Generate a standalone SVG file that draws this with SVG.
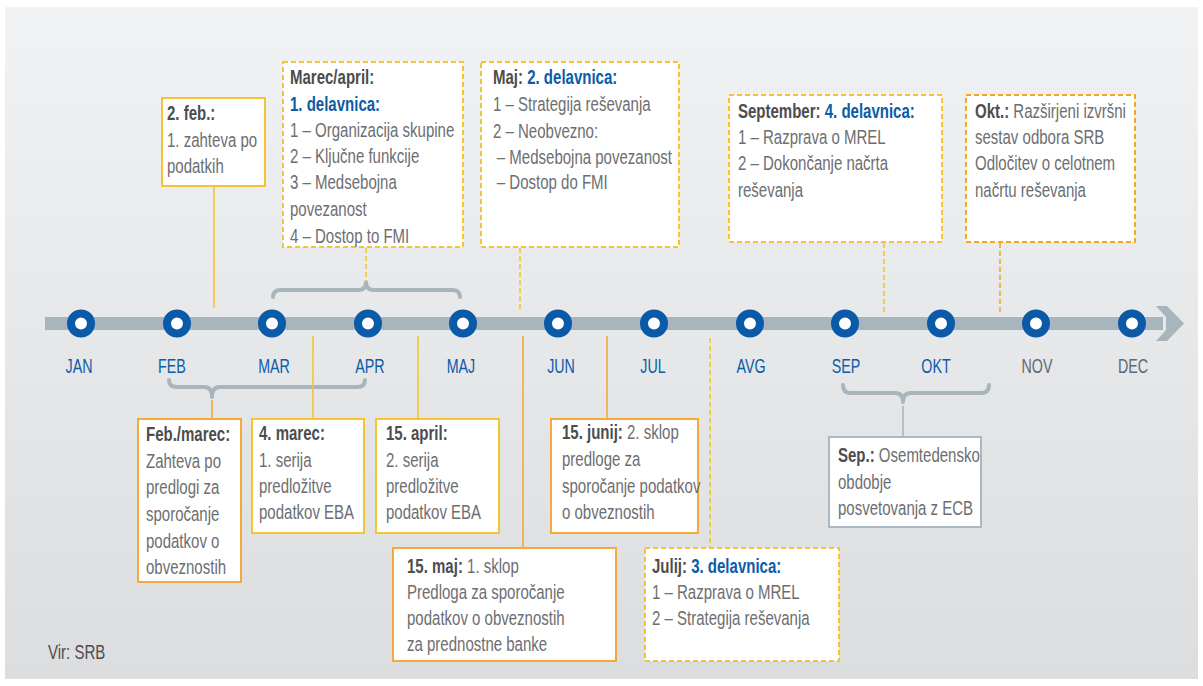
<svg xmlns="http://www.w3.org/2000/svg" width="1203" height="686" viewBox="0 0 1203 686">
<defs>
<linearGradient id="bg" x1="0" y1="0" x2="0" y2="1">
<stop offset="0" stop-color="#f1f2f4"/>
<stop offset="1" stop-color="#dcdddf"/>
</linearGradient>
<style>
text{font-family:"Liberation Sans",Arial,sans-serif;font-size:19.5px;fill:#6d6e71}
.b{font-weight:bold;fill:#4d4d4f}
.bl{font-weight:bold;fill:#0c5ca8}
.m{fill:#0c5ca8;font-size:21px;text-anchor:middle}
.mg{fill:#5d6a73;font-size:21px;text-anchor:middle}
.box{fill:#fff;stroke-width:2}
.sy{stroke:#f6c432}
.so{stroke:#f5a93a}
.dy{stroke:#f6c432;stroke-dasharray:5 3}
.do{stroke:#f5a623;stroke-dasharray:5 3}
.sg{stroke:#a9b8c2}
.ly{stroke:#f6c432;stroke-width:1.6;fill:none}
.lo{stroke:#f5a93a;stroke-width:1.6;fill:none}
.ldy{stroke:#f6c432;stroke-width:1.6;stroke-dasharray:5 3;fill:none}
.ldo{stroke:#f5a623;stroke-width:1.6;stroke-dasharray:5 3;fill:none}
.lg{stroke:#a9b8c2;stroke-width:1.6;fill:none}
.br{stroke:#a8b5bd;stroke-width:4;fill:none;stroke-linecap:round;stroke-linejoin:round}
.c{fill:#fff;stroke:#0a5aa8;stroke-width:8}
</style>
</defs>
<rect x="5" y="7" width="1193" height="672" fill="url(#bg)"/>

<g id="timeline">
<rect x="45" y="317" width="1118" height="13" fill="#a8b5bd"/>
<polygon points="1156,306 1167,306 1184,323.5 1167,341 1156,341 1166,330 1166,317" fill="#a8b5bd"/>
<circle class="c" cx="81" cy="323.5" r="10"/>
<circle class="c" cx="177" cy="323.5" r="10"/>
<circle class="c" cx="272" cy="323.5" r="10"/>
<circle class="c" cx="368" cy="323.5" r="10"/>
<circle class="c" cx="463" cy="323.5" r="10"/>
<circle class="c" cx="558" cy="323.5" r="10"/>
<circle class="c" cx="654" cy="323.5" r="10"/>
<circle class="c" cx="750" cy="323.5" r="10"/>
<circle class="c" cx="845" cy="323.5" r="10"/>
<circle class="c" cx="941" cy="323.5" r="10"/>
<circle class="c" cx="1036" cy="323.5" r="10"/>
<circle class="c" cx="1132" cy="323.5" r="10"/>
<text class="m" x="79" y="373" transform="matrix(0.68 0 0 1 25.28 0)">JAN</text>
<text class="m" x="172" y="373" transform="matrix(0.68 0 0 1 55.04 0)">FEB</text>
<text class="m" x="274" y="373" transform="matrix(0.68 0 0 1 87.68 0)">MAR</text>
<text class="m" x="370" y="373" transform="matrix(0.68 0 0 1 118.4 0)">APR</text>
<text class="m" x="461" y="373" transform="matrix(0.68 0 0 1 147.52 0)">MAJ</text>
<text class="m" x="561" y="373" transform="matrix(0.68 0 0 1 179.52 0)">JUN</text>
<text class="m" x="653" y="373" transform="matrix(0.68 0 0 1 208.96 0)">JUL</text>
<text class="m" x="751" y="373" transform="matrix(0.68 0 0 1 240.32 0)">AVG</text>
<text class="m" x="846" y="373" transform="matrix(0.68 0 0 1 270.72 0)">SEP</text>
<text class="m" x="936" y="373" transform="matrix(0.68 0 0 1 299.52 0)">OKT</text>
<text class="mg" x="1037" y="373" transform="matrix(0.68 0 0 1 331.84 0)">NOV</text>
<text class="mg" x="1133" y="373" transform="matrix(0.68 0 0 1 362.56 0)">DEC</text>
</g>

<g id="connectors">
<path class="br" d="M273,297 Q273,290 281,290 L358,290 Q366,290 366,282 Q366,290 374,290 L452,290 Q460,290 460,297"/>
<path class="br" d="M169,380 Q169,387 177,387 L204,387 Q212,387 212,397 Q212,387 220,387 L357,387 Q365,387 365,380"/>
<path class="br" d="M843,385 Q843,393 851,393 L895,393 Q903,393 903,402 Q903,393 911,393 L981,393 Q989,393 989,385"/>
<line class="ly" x1="214" y1="186" x2="214" y2="308"/>
<line class="ldy" x1="366" y1="248" x2="366" y2="282"/>
<line class="ldy" x1="520" y1="248" x2="520" y2="312"/>
<line class="ldy" x1="884" y1="243" x2="884" y2="312"/>
<line class="ldo" x1="1000" y1="243" x2="1000" y2="312"/>
<line class="lo" x1="212" y1="400" x2="212" y2="419"/>
<line class="ly" x1="313" y1="336" x2="313" y2="419"/>
<line class="ly" x1="418" y1="336" x2="418" y2="419"/>
<line class="lo" x1="523" y1="336" x2="523" y2="548"/>
<line class="lo" x1="607" y1="336" x2="607" y2="419"/>
<line class="ldy" x1="710" y1="338" x2="710" y2="548"/>
<line class="lg" x1="903" y1="406" x2="903" y2="437"/>
</g>

<g id="box-feb">
<rect class="box sy" x="162" y="98" width="103" height="88"/>
<g transform="matrix(0.77 0 0 1 38.41 0)">
<text x="167" y="120"><tspan class="b">2. feb.:</tspan></text>
<text x="167" y="147">1. zahteva po</text>
<text x="167" y="173">podatkih</text>
</g>
</g>

<g id="box-marec-april">
<rect class="box dy" x="283" y="62" width="180" height="185"/>
<g transform="matrix(0.77 0 0 1 66.7 0)">
<text x="290" y="84"><tspan class="b">Marec/april:</tspan></text>
<text x="290" y="111"><tspan class="bl">1. delavnica:</tspan></text>
<text x="290" y="137">1 – Organizacija skupine</text>
<text x="290" y="163">2 – Ključne funkcije</text>
<text x="290" y="189">3 – Medsebojna</text>
<text x="290" y="216">povezanost</text>
<text x="290" y="243">4 – Dostop to FMI</text>
</g>
</g>

<g id="box-maj">
<rect class="box dy" x="481" y="62" width="198" height="185"/>
<g transform="matrix(0.77 0 0 1 113.39 0)">
<text x="493" y="84"><tspan class="b">Maj: </tspan><tspan class="bl">2. delavnica:</tspan></text>
<text x="493" y="111">1 – Strategija reševanja</text>
<text x="493" y="138">2 – Neobvezno:</text>
<text x="498" y="164">– Medsebojna povezanost</text>
<text x="498" y="189">– Dostop do FMI</text>
</g>
</g>

<g id="box-september">
<rect class="box dy" x="729" y="95" width="213" height="147"/>
<g transform="matrix(0.77 0 0 1 169.74 0)">
<text x="738" y="118"><tspan class="b">September: </tspan><tspan class="bl">4. delavnica:</tspan></text>
<text x="738" y="144">1 – Razprava o MREL</text>
<text x="738" y="170">2 – Dokončanje načrta</text>
<text x="738" y="197">reševanja</text>
</g>
</g>

<g id="box-okt">
<rect class="box do" x="966" y="95" width="169" height="147"/>
<g transform="matrix(0.77 0 0 1 224.25 0)">
<text x="975" y="118"><tspan class="b">Okt.: </tspan>Razširjeni izvršni</text>
<text x="975" y="144">sestav odbora SRB</text>
<text x="975" y="170">Odločitev o celotnem</text>
<text x="975" y="197">načrtu reševanja</text>
</g>
</g>

<g id="box-feb-marec">
<rect class="box so" x="138" y="419" width="103" height="163"/>
<g transform="matrix(0.77 0 0 1 33.58 0)">
<text x="146" y="441"><tspan class="b">Feb./marec:</tspan></text>
<text x="146" y="468">Zahteva po</text>
<text x="146" y="494">predlogi za</text>
<text x="146" y="521">sporočanje</text>
<text x="146" y="548">podatkov o</text>
<text x="146" y="574">obveznostih</text>
</g>
</g>

<g id="box-4-marec">
<rect class="box sy" x="252" y="419" width="112" height="114"/>
<g transform="matrix(0.77 0 0 1 59.57 0)">
<text x="259" y="440"><tspan class="b">4. marec:</tspan></text>
<text x="259" y="467">1. serija</text>
<text x="259" y="493">predložitve</text>
<text x="259" y="519">podatkov EBA</text>
</g>
</g>

<g id="box-15-april">
<rect class="box sy" x="376" y="419" width="123" height="114"/>
<g transform="matrix(0.77 0 0 1 88.78 0)">
<text x="386" y="440"><tspan class="b">15. april:</tspan></text>
<text x="386" y="467">2. serija</text>
<text x="386" y="493">predložitve</text>
<text x="386" y="519">podatkov EBA</text>
</g>
</g>

<g id="box-15-maj">
<rect class="box so" x="393" y="548" width="223" height="113"/>
<g transform="matrix(0.77 0 0 1 93.61 0)">
<text x="407" y="573"><tspan class="b">15. maj: </tspan>1. sklop</text>
<text x="407" y="599">Predloga za sporočanje</text>
<text x="407" y="625">podatkov o obveznostih</text>
<text x="407" y="651">za prednostne banke</text>
</g>
</g>

<g id="box-15-junij">
<rect class="box so" x="551" y="419" width="147" height="114"/>
<g transform="matrix(0.77 0 0 1 129.26 0)">
<text x="562" y="439"><tspan class="b">15. junij: </tspan>2. sklop</text>
<text x="562" y="466">predloge za</text>
<text x="562" y="493">sporočanje podatkov</text>
<text x="562" y="519">o obveznostih</text>
</g>
</g>

<g id="box-julij">
<rect class="box dy" x="645" y="548" width="194" height="113"/>
<g transform="matrix(0.77 0 0 1 149.96 0)">
<text x="652" y="573"><tspan class="b">Julij: </tspan><tspan class="bl">3. delavnica:</tspan></text>
<text x="652" y="599">1 – Razprava o MREL</text>
<text x="652" y="625">2 – Strategija reševanja</text>
</g>
</g>

<g id="box-sep">
<rect class="box sg" x="829" y="437" width="152" height="90"/>
<g transform="matrix(0.77 0 0 1 192.74 0)">
<text x="838" y="462"><tspan class="b">Sep.: </tspan>Osemtedensko</text>
<text x="838" y="489">obdobje</text>
<text x="838" y="515">posvetovanja z ECB</text>
</g>
</g>

<g transform="matrix(0.77 0 0 1 11.04 0)">
<text x="48" y="659" style="fill:#4d4d4f">Vir: SRB</text>
</g>
</svg>
